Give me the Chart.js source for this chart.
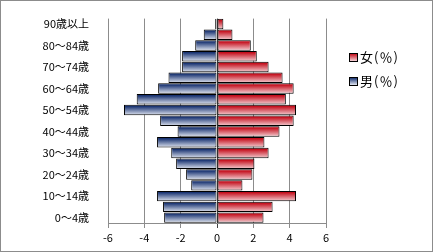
<!DOCTYPE html>
<html>
<head>
<meta charset="utf-8">
<script src="https://cdn.jsdelivr.net/npm/chart.js@4/dist/chart.umd.min.js"></script>
<style>
html,body{margin:0;padding:0;background:#fff;}
#wrap{position:relative;width:433px;height:252px;box-sizing:border-box;border:1px solid #8c8c8c;background:#fff;}
#c{position:absolute;left:0;top:0;}
#legend{position:absolute;left:348px;top:44px;font-family:"Noto Sans CJK JP","DejaVu Sans",sans-serif;font-size:13px;letter-spacing:1px;color:#000;}
.li{height:24px;line-height:18px;display:flex;align-items:center;}
.sw{width:7px;height:7px;border:1px solid #000;margin-right:2px;}
</style>
</head>
<body>
<div id="wrap"><canvas id="c" width="431" height="250"></canvas>
<div id="legend"></div></div>
<script>
const categories = ["0～4歳","5～9歳","10～14歳","15～19歳","20～24歳","25～29歳","30～34歳","35～39歳","40～44歳","45～49歳","50～54歳","55～59歳","60～64歳","65～69歳","70～74歳","75～79歳","80～84歳","85～89歳","90歳以上"];
const femaleValues = [2.56,3.06,4.35,1.40,1.95,2.06,2.84,2.61,3.44,4.22,4.35,3.79,4.22,3.61,2.84,2.19,1.86,0.85,0.35];
const maleValues = [-2.91,-2.97,-3.30,-1.42,-1.70,-2.25,-2.52,-3.30,-2.17,-3.13,-5.12,-4.42,-3.24,-2.67,-1.92,-1.92,-1.20,-0.73,-0.10];
const xTicks = [-6,-4,-2,0,2,4,6];
const seriesNames = ["女(％)","男(％)"];

const FONT = '"Noto Sans CJK JP","DejaVu Sans",sans-serif';
const grads = [
  ["#c40f1d","#f4d2d6"],
  ["#1a3472","#e2e7f2"]
];

const gradPlugin = {
  id:'grad',
  beforeDatasetsDraw(chart){
    const ctx = chart.ctx;
    chart.data.datasets.forEach((ds,i)=>{
      const meta = chart.getDatasetMeta(i);
      meta.data.forEach(el=>{
        const top = el.y - el.height/2;
        const g = ctx.createLinearGradient(0,top,0,top+el.height);
        g.addColorStop(0,grads[i][0]);
        g.addColorStop(0.15,grads[i][0]);
        g.addColorStop(1,grads[i][1]);
        el.options = Object.assign({}, el.options, {backgroundColor:g});
      });
    });
  }
};

new Chart(document.getElementById('c'),{
  type:'bar',
  data:{
    labels:categories,
    datasets:[
      {label:seriesNames[0],data:femaleValues,backgroundColor:()=>grads[0][0],borderColor:'#000',borderWidth:1,borderSkipped:false,barPercentage:0.97,categoryPercentage:1},
      {label:seriesNames[1],data:maleValues,backgroundColor:()=>grads[1][0],borderColor:'#000',borderWidth:1,borderSkipped:false,barPercentage:0.97,categoryPercentage:1}
    ]
  },
  options:{
    indexAxis:'y',
    responsive:false,
    animation:false,
    layout:{padding:{left:7,right:106,top:14,bottom:0}},
    plugins:{legend:{display:false},tooltip:{enabled:false}},
    scales:{
      x:{
        stacked:true,min:-6,max:6,
        afterBuildTicks(s){s.ticks = xTicks.map(v=>({value:v}));},
        afterFit(s){s.height=28;},
        grid:{color:(c)=> c.tick && c.tick.value===0 ? '#404040' : '#8c8c8c',lineWidth:1,tickLength:5,drawTicks:true},
        border:{color:'#8c8c8c'},
        ticks:{color:'#000',font:{family:FONT,size:11},padding:3,callback:(v)=>String(v)}
      },
      y:{
        stacked:true,reverse:true,
        afterFit(s){s.width=100;},
        grid:{display:false},
        border:{display:false},
        ticks:{autoSkip:false,color:'#000',font:{family:FONT,size:11},padding:11,
          callback:function(v,i){return i%2===0?this.getLabelForValue(v):'';}}
      }
    }
  },
  plugins:[gradPlugin]
});

const lg = document.getElementById('legend');
seriesNames.forEach((n,i)=>{
  const d=document.createElement('div');d.className='li';
  const s=document.createElement('div');s.className='sw';
  s.style.background='linear-gradient('+grads[i][0]+','+grads[i][1]+')';
  d.appendChild(s);
  const t=document.createElement('span');t.textContent=n;d.appendChild(t);
  lg.appendChild(d);
});
</script>
</body>
</html>
